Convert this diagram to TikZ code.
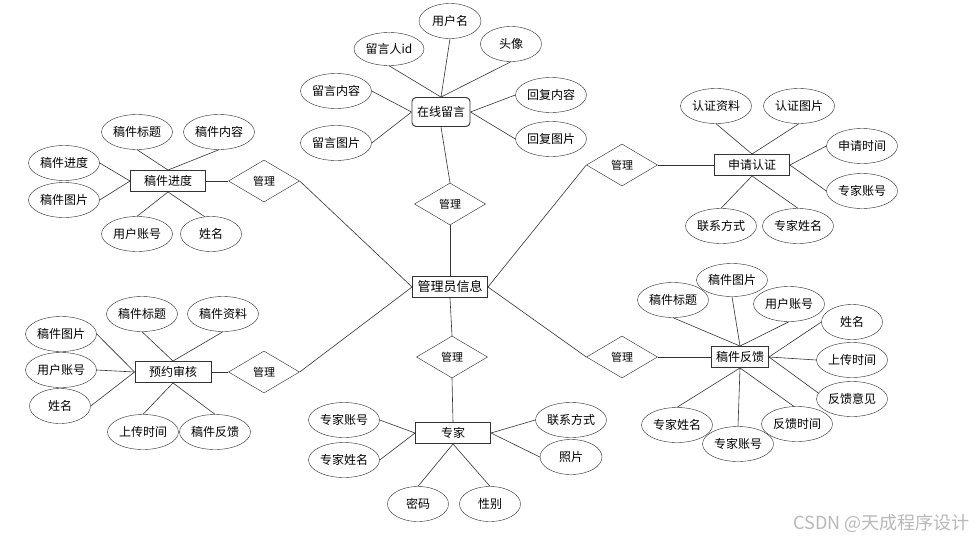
\documentclass[tikz,border=0pt]{standalone}
\usepackage{fontspec}
\setmainfont{Noto Sans CJK SC}
\usetikzlibrary{shapes.geometric}

\begin{document}
\begin{tikzpicture}[
  x=1pt, y=-1pt,
  font=\fontsize{12}{14}\selectfont,
  attr/.style={draw=black!85, ellipse, minimum width=71pt, minimum height=35pt, inner sep=0pt},
  attrs/.style={attr, minimum width=61pt},
  ent/.style={draw=black!80, line width=0.9pt, rectangle, minimum width=75pt, minimum height=21pt, inner sep=0pt},
  rel/.style={draw=black!85, diamond, minimum width=71pt, minimum height=42pt, inner sep=0pt, font=\fontsize{11}{13}\selectfont},
  link/.style={draw=black!80, line width=0.6pt}
]
\useasboundingbox (0,0) rectangle (976,541);
% centre
\node[ent, font=\fontsize{13}{15}\selectfont] (admin) at (450,287) {管理员信息};
% top: online messages
\node[ent, rounded corners=4pt, minimum width=58pt, minimum height=29pt] (msg) at (441,112) {在线留言};
\node[attrs, minimum width=62pt] (msguser) at (450,21) {用户名};
\node[attr, minimum width=70pt, minimum height=33pt] (msgid) at (389,49) {留言人id};
\node[attrs] (msgavatar) at (511,44) {头像};
\node[attr] (msgtext) at (336,91) {留言内容};
\node[attr] (msgpic) at (336,143) {留言图片};
\node[attr] (replytext) at (551,95) {回复内容};
\node[attr] (replypic) at (551,139) {回复图片};
\node[rel] (msgrel) at (450,204) {管理};
% top left: progress
\node[ent] (prog) at (168,181) {稿件进度};
\node[attr] (progtitle) at (137,132) {稿件标题};
\node[attr] (progbody) at (219,132) {稿件内容};
\node[attr] (progstate) at (64,163) {稿件进度};
\node[attr] (progpic) at (64,200) {稿件图片};
\node[attr] (proguser) at (137,234) {用户账号};
\node[attrs] (progname) at (211,234) {姓名};
\node[rel] (progrel) at (264,181) {管理};
% top right: certification
\node[ent] (cert) at (752,165) {申请认证};
\node[attr] (certdoc) at (716,106) {认证资料};
\node[attr] (certpic) at (799,106) {认证图片};
\node[attr] (certtime) at (862,146) {申请时间};
\node[attr] (certacc) at (862,191) {专家账号};
\node[attr] (certtel) at (721,226) {联系方式};
\node[attr] (certname) at (798,226) {专家姓名};
\node[rel] (certrel) at (622,165) {管理};
% bottom right: feedback
\node[ent, minimum width=57pt] (fb) at (740,357) {稿件反馈};
\node[attr, minimum height=33pt] (fbpic) at (732,280) {稿件图片};
\node[attr] (fbtitle) at (673,300) {稿件标题};
\node[attr] (fbuser) at (789,304) {用户账号};
\node[attrs] (fbname) at (852,322) {姓名};
\node[attr] (fbtime) at (852,360) {上传时间};
\node[attr] (fbopinion) at (852,399) {反馈意见};
\node[attr] (fbdate) at (797,424) {反馈时间};
\node[attr] (fbacc) at (738,444) {专家账号};
\node[attr] (fbexpert) at (677,425) {专家姓名};
\node[rel] (fbrel) at (622,357) {管理};
% bottom left: audit
\node[ent, minimum width=76pt] (audit) at (173,372) {预约审核};
\node[attr] (audittitle) at (142,314) {稿件标题};
\node[attr] (auditdoc) at (223,314) {稿件资料};
\node[attr] (auditpic) at (61,334) {稿件图片};
\node[attr] (audituser) at (61,370) {用户账号};
\node[attrs] (auditname) at (60,406) {姓名};
\node[attr] (audittime) at (143,432) {上传时间};
\node[attr] (auditfb) at (215,432) {稿件反馈};
\node[rel] (auditrel) at (264,372) {管理};
% bottom: expert
\node[ent] (expert) at (453,433) {专家};
\node[rel] (exprel) at (452,357) {管理};
\node[attr] (expacc) at (344,420) {专家账号};
\node[attr] (expname) at (344,460) {专家姓名};
\node[attr] (exptel) at (571,420) {联系方式};
\node[attrs, minimum width=62pt] (exppic) at (571,457) {照片};
\node[attrs] (exppwd) at (418,504) {密码};
\node[attrs] (expsex) at (490,504) {性别};
\node[anchor=east, text=black!28, font=\fontsize{18}{20}\selectfont] (mark) at (973,523) {CSDN @天成程序设计};

\draw[link] (msg.north) -- (msguser.south);
\draw[link] (msg.north) -- (msgid.south);
\draw[link] (msg.north) -- (msgavatar.south);
\draw[link] (msg.west) -- (msgtext.east);
\draw[link] (msg.west) -- (msgpic.east);
\draw[link] (msg.east) -- (replytext.west);
\draw[link] (msg.east) -- (replypic.west);
\draw[link] (msg.south) -- (msgrel.north);
\draw[link] (msgrel.south) -- (admin.north);

\draw[link] (prog.north) -- (progtitle.south);
\draw[link] (prog.north) -- (progbody.south);
\draw[link] (prog.west) -- (progstate.east);
\draw[link] (prog.west) -- (progpic.east);
\draw[link] (prog.south) -- (proguser.north);
\draw[link] (prog.south) -- (progname.110);
\draw[link] (prog.east) -- (progrel.west);
\draw[link] (progrel.east) -- (admin.west);

\draw[link] (cert.north) -- (certdoc.south);
\draw[link] (cert.north) -- (certpic.south);
\draw[link] (cert.east) -- (certtime.west);
\draw[link] (cert.east) -- (certacc.west);
\draw[link] (cert.south) -- (certtel.north);
\draw[link] (cert.south) -- (certname.north);
\draw[link] (certrel.east) -- (cert.west);
\draw[link] (admin.east) -- (certrel.west);

\draw[link] (fb.north) -- (fbtitle.south);
\draw[link] (fb.north) -- (fbpic.south);
\draw[link] (fb.north) -- (fbuser.south);
\draw[link] (fb.east) -- (fbname.west);
\draw[link] (fb.east) -- (fbtime.west);
\draw[link] (fb.east) -- (fbopinion.170);
\draw[link] (fb.south) -- (fbexpert.north);
\draw[link] (fb.south) -- (fbacc.north);
\draw[link] (fb.south) -- (fbdate.100);
\draw[link] (fbrel.east) -- (fb.west);
\draw[link] (admin.east) -- (fbrel.west);

\draw[link] (audit.north) -- (audittitle.south);
\draw[link] (audit.north) -- (auditdoc.south);
\draw[link] (audit.west) -- (auditpic.east);
\draw[link] (audit.west) -- (audituser.east);
\draw[link] (audit.west) -- (auditname.east);
\draw[link] (audit.south) -- (audittime.north);
\draw[link] (audit.south) -- (auditfb.north);
\draw[link] (audit.east) -- (auditrel.west);
\draw[link] (auditrel.east) -- (admin.west);

\draw[link] (admin.south) -- (exprel.north);
\draw[link] (exprel.south) -- (expert.north);
\draw[link] (expert.west) -- (expacc.east);
\draw[link] (expert.west) -- (expname.east);
\draw[link] (expert.east) -- (exptel.west);
\draw[link] (expert.east) -- (exppic.west);
\draw[link] (expert.south) -- (exppwd.north);
\draw[link] (expert.south) -- (expsex.north);
\end{tikzpicture}
\end{document}
